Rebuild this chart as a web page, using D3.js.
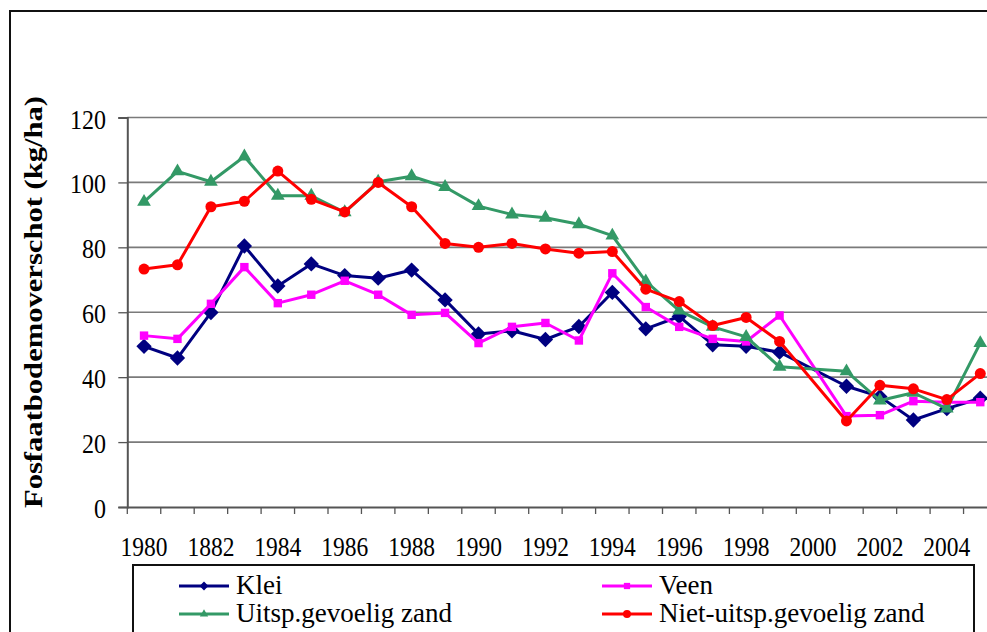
<!DOCTYPE html>
<html>
<head>
<meta charset="utf-8">
<script src="https://cdn.jsdelivr.net/npm/d3@7"></script>
<style>
  html, body { margin: 0; padding: 0; background: #fff; }
  svg { display: block; }
  text { font-family: "Liberation Serif", "Times New Roman", serif; fill: #000; }
</style>
</head>
<body>
<script>
// ---- data ----
const years = ["1980","1981","1982","1983","1984","1985","1986","1987","1988","1989","1990","1991","1992","1993","1994","1995","1996","1997","1998","1999","2000","2001","2002","2003","2004","2005"];
const tickLabels = ["1980","1882","1984","1986","1988","1990","1992","1994","1996","1998","2000","2002","2004"];
const yTicks = [0, 20, 40, 60, 80, 100, 120];
const klei  = [49.5, 45.9, 59.9, 80.4, 68.1, 74.9, 71.3, 70.5, 73.0, 63.8, 53.3, 54.3, 51.6, 55.6, 66.1, 54.9, 58.7, 50.0, 49.5, 47.7, null, 37.2, 34.0, 26.8, 30.3, 33.5];
const veen  = [52.8, 51.8, 62.6, 73.9, 62.8, 65.4, 69.7, 65.4, 59.2, 59.8, 50.5, 55.5, 56.7, 51.3, 72.0, 61.6, 55.5, 51.8, 51.0, 59.0, null, 28.0, 28.3, 32.6, 32.3, 32.3];
const uitsp = [94.0, 103.4, 100.2, 108.0, 95.9, 95.9, 90.8, 100.2, 101.9, 98.6, 92.7, 90.1, 89.1, 87.1, 83.6, 69.5, 60.5, 55.5, 52.4, 43.2, null, 41.8, 32.8, 35.2, 30.3, 50.5];
const niet  = [73.3, 74.6, 92.5, 94.2, 103.5, 94.8, 90.9, 100.0, 92.5, 81.2, 80.0, 81.2, 79.5, 78.2, 78.7, 67.1, 63.3, 55.9, 58.4, 51.0, null, 26.5, 37.5, 36.4, 33.1, 41.1];
const seriesNames = ["Klei", "Veen", "Uitsp.gevoelig zand", "Niet-uitsp.gevoelig zand"];
const yTitle = "Fosfaatbodemoverschot (kg/ha)";

const series = [
  { name: seriesNames[0], values: klei,  color: "#000080", symbol: d3.symbolDiamond2 },
  { name: seriesNames[1], values: veen,  color: "#FF00FF", symbol: d3.symbolSquare2 },
  { name: seriesNames[2], values: uitsp, color: "#339966", symbol: d3.symbolTriangle2 },
  { name: seriesNames[3], values: niet,  color: "#FF0000", symbol: d3.symbolCircle }
];

const W = 987, H = 632;
const svg = d3.select("body").append("svg").attr("width", W).attr("height", H);

// outer frame
svg.append("rect").attr("x", 10).attr("y", 11).attr("width", 1000).attr("height", 700)
  .attr("fill", "none").attr("stroke", "#111").attr("stroke-width", 2);

const x0 = 127.3, band = 33.45;
const x = d3.scaleBand().domain(years).range([x0, x0 + band * years.length]).padding(0);
const y = d3.scaleLinear().domain([0, 120]).range([507, 117.5]);

// gridlines
svg.append("g").selectAll("line").data(yTicks.filter(v => v > 0)).join("line")
  .attr("x1", x0).attr("x2", W).attr("y1", d => y(d)).attr("y2", d => y(d))
  .attr("stroke", "#7a7a7a").attr("stroke-width", 1.6);

// y axis
const yAxis = svg.append("g").attr("transform", `translate(${x0},0)`)
  .call(d3.axisLeft(y).tickValues(yTicks).tickSize(9).tickFormat(""));
yAxis.select(".domain").attr("stroke", "#555").attr("stroke-width", 2);
yAxis.selectAll(".tick line").attr("stroke", "#555").attr("stroke-width", 1.3);

// y labels
svg.append("g").selectAll("text").data(yTicks).join("text")
  .attr("transform", d => `translate(106,${y(d) + 2}) scale(1,1.15)`)
  .attr("text-anchor", "end").attr("dominant-baseline", "central")
  .style("font-size", "24px").text(d => d);

// x axis
const xAxis = svg.append("g").attr("transform", "translate(0,507)")
  .call(d3.axisBottom(x).tickSize(0).tickFormat(""));
xAxis.select(".domain").attr("stroke", "#555").attr("stroke-width", 2);
svg.append("g").selectAll("line").data(years).join("line")
  .attr("x1", d => x(d)).attr("x2", d => x(d)).attr("y1", 507).attr("y2", 514)
  .attr("stroke", "#555").attr("stroke-width", 1.3);

// x labels
svg.append("g").selectAll("text").data(tickLabels).join("text")
  .attr("transform", (d, i) => `translate(${x(years[i * 2]) + x.bandwidth() / 2},556) scale(1,1.15)`)
  .attr("text-anchor", "middle")
  .style("font-size", "23.5px").text(d => d);

// y title
svg.append("text")
  .attr("transform", "translate(42,302) rotate(-90)")
  .attr("text-anchor", "middle")
  .attr("textLength", 412).attr("lengthAdjust", "spacingAndGlyphs")
  .style("font-size", "26px").style("font-weight", "bold")
  .text(yTitle);

// series
const cx = i => x(years[i]) + x.bandwidth() / 2;
const line = d3.line().x(d => cx(d.i)).y(d => y(d.v));
const sizes = [150, 90, 135, 95];
series.forEach((s, si) => {
  const pts = s.values.map((v, i) => ({ v, i })).filter(d => d.v != null);
  svg.append("path").datum(pts).attr("d", line)
    .attr("fill", "none").attr("stroke", s.color).attr("stroke-width", 3)
    .attr("stroke-linejoin", "round");
  svg.append("g").selectAll("path").data(pts).join("path")
    .attr("transform", d => `translate(${cx(d.i)},${y(d.v)})`)
    .attr("d", d3.symbol().type(s.symbol).size(sizes[si]))
    .attr("fill", s.color);
});

// legend
svg.append("rect").attr("x", 133).attr("y", 565).attr("width", 841).attr("height", 120)
  .attr("fill", "#fff").attr("stroke", "#111").attr("stroke-width", 2);
const legPos = [[179, 586], [602, 586], [179, 614], [602, 614]];
series.forEach((s, si) => {
  const [lx, ly] = legPos[si];
  const g = svg.append("g");
  g.append("line").attr("x1", lx).attr("x2", lx + 50).attr("y1", ly).attr("y2", ly)
    .attr("stroke", s.color).attr("stroke-width", 3);
  g.append("path").attr("transform", `translate(${lx + 25},${ly})`)
    .attr("d", d3.symbol().type(s.symbol).size(50)).attr("fill", s.color);
  g.append("text").attr("x", lx + 57).attr("y", ly + 8)
    .style("font-size", "27px").text(s.name);
});
</script>
</body>
</html>
